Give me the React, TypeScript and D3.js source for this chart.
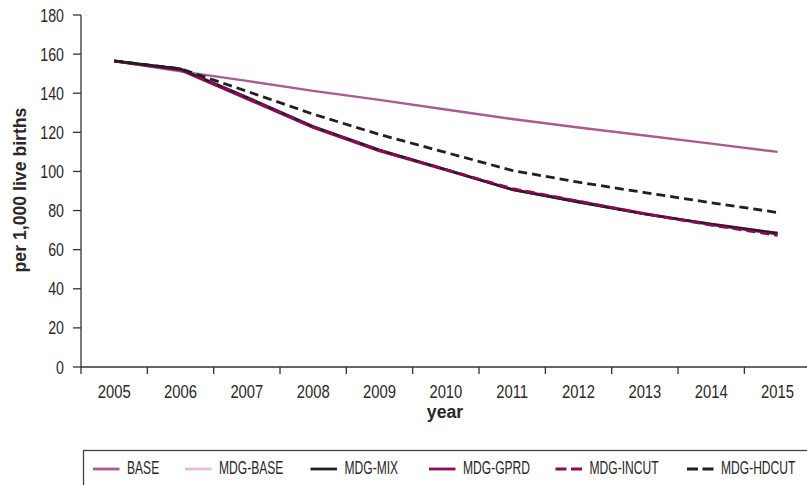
import React from "react";
import * as d3 from "d3";

const years = ["2005", "2006", "2007", "2008", "2009", "2010", "2011", "2012", "2013", "2014", "2015"];
const yTicks = [0, 20, 40, 60, 80, 100, 120, 140, 160, 180];

const base = [156.5, 151.2, 146.3, 141.2, 136.6, 131.7, 126.8, 122.5, 118.4, 114.2, 110];
const mdgBase = [156.5, 152.5, 138, 123, 111, 101, 90.7, 84.2, 78.2, 73.2, 68.5];
const mdgMix = [156.5, 152.5, 138, 123, 111, 101, 90.7, 84.2, 78.2, 73.2, 68.5];
const mdgGprd = [156.5, 152, 137.3, 122.5, 110.6, 100.8, 90.8, 84.6, 78.4, 72.8, 68];
const mdgIncut = [156.5, 152.3, 137.6, 122.8, 110.8, 101, 91.3, 84.8, 78.3, 72.5, 67.3];
const mdgHdcut = [156.5, 152.5, 141, 129.3, 118.9, 109.7, 100.5, 94.5, 89.2, 84, 79];

const seriesNames = ["BASE", "MDG-BASE", "MDG-MIX", "MDG-GPRD", "MDG-INCUT", "MDG-HDCUT"];

const FONT = "'Liberation Sans', Arial, sans-serif";
const TXT = "#2b2728";

export default function App() {
  const x = d3.scaleBand<string>().domain(years).range([81, 810.7]).padding(0);
  const y = d3.scaleLinear().domain([0, 180]).range([367, 15]);
  const cx = (i: number) => (x(years[i]) as number) + x.bandwidth() / 2;
  const line = d3
    .line<number>()
    .x((_, i) => cx(i))
    .y((d) => y(d));

  // drawing order
  const series = [
    { name: seriesNames[0], data: base, color: "#ad5a8d", width: 2.4, dash: "" },
    { name: seriesNames[1], data: mdgBase, color: "#e3bdd5", width: 2.6, dash: "" },
    { name: seriesNames[3], data: mdgGprd, color: "#8c0a58", width: 3, dash: "" },
    { name: seriesNames[2], data: mdgMix, color: "#231f20", width: 2.4, dash: "" },
    { name: seriesNames[4], data: mdgIncut, color: "#8c0a58", width: 2.6, dash: "9,5" },
    { name: seriesNames[5], data: mdgHdcut, color: "#231f20", width: 2.8, dash: "9,5" },
  ];
  const legendX = [93, 185, 310.5, 429, 555.5, 687];

  return (
    <svg
      width={807}
      height={485}
      style={{ position: "absolute", left: 0, top: 0, background: "#fff" }}
    >
      {/* y axis */}
      <line x1={81} x2={81} y1={y(180)} y2={y(0)} stroke="#333" strokeWidth={1.3} />
      {yTicks.map((t) => (
        <g key={t}>
          <line x1={73} x2={81} y1={y(t)} y2={y(t)} stroke="#333" strokeWidth={1.3} />
          <g transform={`translate(64,${y(t) + 6.5}) scale(0.79,1)`}>
            <text textAnchor="end" fontFamily={FONT} fontSize={18} fill={TXT}>
              {t}
            </text>
          </g>
        </g>
      ))}
      {/* x axis */}
      <line x1={81} x2={810.7} y1={y(0)} y2={y(0)} stroke="#333" strokeWidth={1.3} />
      {years.map((yr) => (
        <g key={yr}>
          <line
            x1={x(yr) as number}
            x2={x(yr) as number}
            y1={y(0)}
            y2={y(0) + 7}
            stroke="#333"
            strokeWidth={1.3}
          />
          <g transform={`translate(${(x(yr) as number) + x.bandwidth() / 2},397.5) scale(0.8,1)`}>
            <text textAnchor="middle" fontFamily={FONT} fontSize={18.5} fill={TXT}>
              {yr}
            </text>
          </g>
        </g>
      ))}
      {/* axis titles */}
      <g transform="translate(26,190) rotate(-90) scale(0.93,1)">
        <text textAnchor="middle" fontFamily={FONT} fontSize={19} fontWeight="bold" fill={TXT}>
          per 1,000 live births
        </text>
      </g>
      <g transform="translate(445,418) scale(0.93,1)">
        <text textAnchor="middle" fontFamily={FONT} fontSize={19} fontWeight="bold" fill={TXT}>
          year
        </text>
      </g>

      {/* lines */}
      {series.map((s) => (
        <path
          key={s.name}
          d={line(s.data) || ""}
          fill="none"
          stroke={s.color}
          strokeWidth={s.width}
          strokeDasharray={s.dash || undefined}
          strokeLinejoin="round"
        />
      ))}

      {/* legend */}
      <rect x={83.5} y={450.5} width={760} height={80} fill="none" stroke="#444" strokeWidth={1.3} />
      {seriesNames.map((nm, k) => {
        const s = series.find((q) => q.name === nm)!;
        const lx = legendX[k];
        return (
          <g key={nm}>
            <line
              x1={lx}
              x2={lx + 26.5}
              y1={469}
              y2={469}
              stroke={s.color}
              strokeWidth={2.8}
              strokeDasharray={s.dash ? "11,4.5" : undefined}
            />
            <g transform={`translate(${lx + 34},474.3) scale(0.69,1)`}>
              <text fontFamily={FONT} fontSize={17.5} fill={TXT}>
                {nm}
              </text>
            </g>
          </g>
        );
      })}
    </svg>
  );
}
